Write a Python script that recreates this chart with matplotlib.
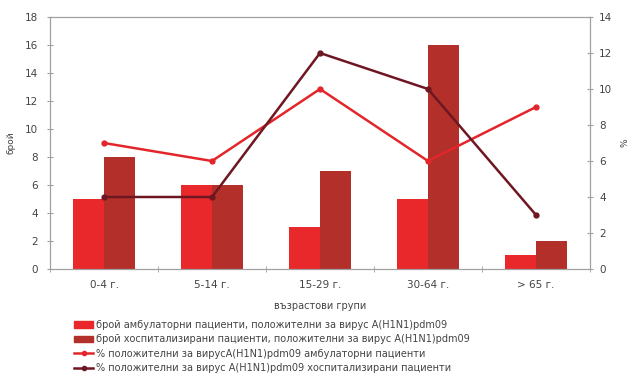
import numpy as np
import matplotlib.pyplot as plt
from matplotlib.lines import Line2D
from matplotlib.patches import Patch

plt.rcParams.update({'font.size': 7.5, 'font.family': 'DejaVu Sans'})

groups = ['0-4 г.', '5-14 г.', '15-29 г.', '30-64 г.', '> 65 г.']
amb_count = [5, 6, 3, 5, 1]
hosp_count = [8, 6, 7, 16, 2]
amb_pct = [7, 6, 10, 6, 9]
hosp_pct = [4, 4, 12, 10, 3]

amb_bar_color = '#e8282b'
hosp_bar_color = '#b3302a'
amb_line_color = '#e3262b'
hosp_line_color = '#6e1722'
text_color = '#444444'
axis_color = '#a0a0a0'

fig = plt.figure(figsize=(6.29, 3.8), dpi=100)
ax = fig.add_axes([50 / 629, 1 - 269 / 380, 540 / 629, 252 / 380])
ax2 = ax.twinx()

x = np.arange(len(groups))
w = 0.285
ax.bar(x - w / 2, amb_count, w, color=amb_bar_color, zorder=2)
ax.bar(x + w / 2, hosp_count, w, color=hosp_bar_color, zorder=2)

ax2.plot(x, amb_pct, color=amb_line_color, lw=1.8, marker='o', ms=3.5)
ax2.plot(x, hosp_pct, color=hosp_line_color, lw=1.8, marker='o', ms=3.5)

ax.set_xlim(-0.5, len(groups) - 0.5)
ax.set_ylim(0, 18)
ax.set_yticks(range(0, 19, 2))
ax2.set_ylim(0, 14)
ax2.set_yticks(range(0, 15, 2))

ax.set_xticks(x)
ax.set_xticklabels(groups, color=text_color)
ax.set_xticks(np.arange(-0.5, len(groups)), minor=True)
ax.tick_params(axis='x', which='major', length=0, pad=8)
ax.tick_params(axis='x', which='minor', length=4, direction='inout', color=axis_color)
ax.tick_params(axis='y', length=5, direction='inout', color=axis_color, labelcolor=text_color, pad=6)
ax2.tick_params(axis='y', length=5, direction='inout', color=axis_color, labelcolor=text_color, pad=4)

for a in (ax, ax2):
    for s in a.spines.values():
        s.set_color(axis_color)
        s.set_linewidth(0.8)

ax.set_ylabel('брой', fontsize=6.5, color=text_color, labelpad=7)
ax2.set_ylabel('%', fontsize=6.5, color=text_color, labelpad=6)
ax.set_xlabel('възрастови групи', fontsize=7, color=text_color, labelpad=8)

handles = [
    Patch(color=amb_bar_color),
    Patch(color=hosp_bar_color),
    Line2D([], [], color=amb_line_color, lw=1.8, marker='o', ms=3),
    Line2D([], [], color=hosp_line_color, lw=1.8, marker='o', ms=3),
]
labels = [
    'брой амбулаторни пациенти, положителни за вирус A(H1N1)pdm09',
    'брой хоспитализирани пациенти, положителни за вирус A(H1N1)pdm09',
    '% положителни за вирусA(H1N1)pdm09 амбулаторни пациенти',
    '% положителни за вирус A(H1N1)pdm09 хоспитализирани пациенти',
]
fig.legend(handles, labels, loc='upper left', bbox_to_anchor=(70 / 629, 1 - 316 / 380),
           frameon=False, fontsize=7, labelcolor=text_color, handlelength=2.0,
           handleheight=0.6, handletextpad=0.3, labelspacing=0.45, borderaxespad=0)

fig.savefig('out.png', dpi=100)
